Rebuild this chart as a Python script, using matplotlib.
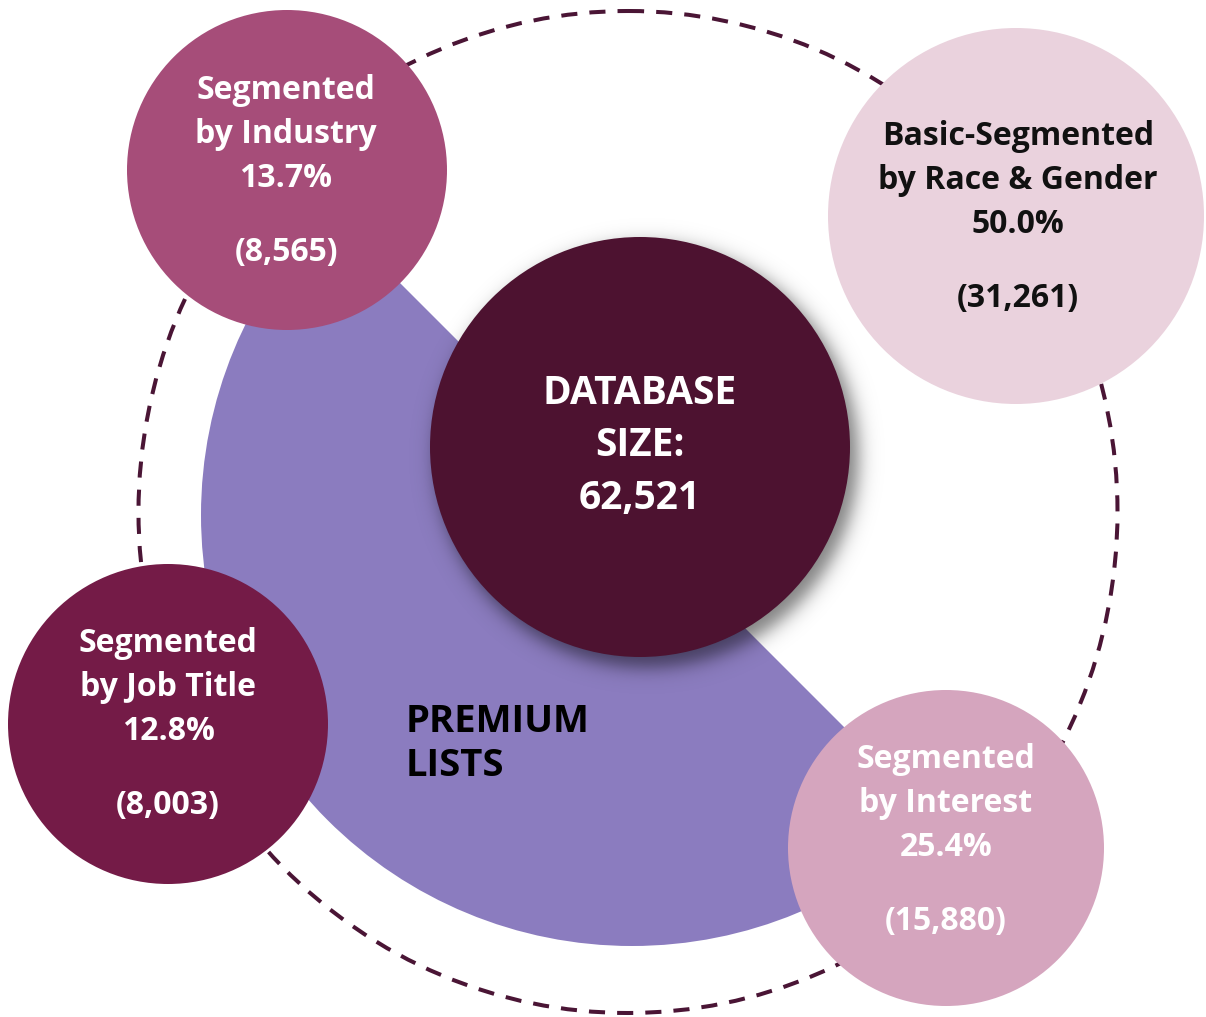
import matplotlib
matplotlib.use("Agg")
import matplotlib.pyplot as plt
import numpy as np
from matplotlib.patches import Circle, Wedge, Ellipse

plt.rcParams['font.family'] = ['Open Sans', 'DejaVu Sans']

# ---- data ----
categories = ["Segmented\nby Industry", "Basic-Segmented\nby Race & Gender",
              "Segmented\nby Job Title", "Segmented\nby Interest"]
percentages = [13.7, 50.0, 12.8, 25.4]
counts = [8565, 31261, 8003, 15880]
database_total = 62521
center_label = ["DATABASE", "SIZE:"]
premium_label = ["PREMIUM", "LISTS"]

# ---- layout / style (pixel coordinates) ----
W, H = 1206, 1017
bubble_xy = [(287, 170), (1016, 216), (168, 724), (946, 848)]
bubble_r = [160, 188, 160, 158]
bubble_text_x = [286, 1018, 168, 946]
bubble_first_baseline = [99, 145, 652, 768]
bubble_color = ["#A64D79", "#EAD2DD", "#741B47", "#D5A5BE"]
text_color = ["white", "#111111", "white", "white"]
LINE = 44
COUNT_GAP = 74
FS_SMALL = 23
FS_BIG = 28

fig = plt.figure(figsize=(W / 100, H / 100), dpi=100)
ax = fig.add_axes([0, 0, 1, 1])
ax.set_xlim(0, W)
ax.set_ylim(H, 0)
ax.set_aspect('equal')
ax.axis('off')

# dashed outer ring
ax.add_patch(Ellipse((628, 512), 979, 1002, fill=False, edgecolor="#4A1535",
                     lw=2.9, linestyle=(0, (4.0, 3.0)), zorder=1))

# premium half-disk
ax.add_patch(Wedge((632, 515), 431, 45, 225, facecolor="#8B7CBF",
                   edgecolor="none", zorder=2))

# center circle with soft shadow
ccx, ccy, cr = 640, 447, 210
pad = 60
xs = np.arange(ccx - cr - pad, ccx + cr + pad, 1.0)
ys = np.arange(ccy - cr - pad, ccy + cr + pad, 1.0)
X, Y = np.meshgrid(xs, ys)
d = np.hypot(X - (ccx + 7), Y - (ccy + 9))
alpha = 0.5 / (1 + np.exp((d - (cr + 2)) / 5.5))
rgba = np.zeros(X.shape + (4,))
rgba[..., 3] = alpha
ax.imshow(rgba, extent=(xs[0], xs[-1], ys[-1], ys[0]), origin="upper",
          interpolation="bilinear", zorder=3)
ax.set_xlim(0, W)
ax.set_ylim(H, 0)
ax.add_patch(Circle((ccx, ccy), cr, facecolor="#4D1230", edgecolor="none", zorder=4))
for i, line in enumerate(center_label + [f"{database_total:,}"]):
    ax.text(ccx, 404 + i * 52.5, line, ha="center", va="baseline", color="white",
            fontsize=FS_BIG, fontweight="bold", zorder=5)

for i, line in enumerate(premium_label):
    ax.text(406, 732 + i * 44.5, line, ha="left", va="baseline", color="black",
            fontsize=27.5, fontweight="bold", zorder=5)

# bubbles
for cat, pct, cnt, (x, y), r, tx, b0, fc, tc in zip(
        categories, percentages, counts, bubble_xy, bubble_r, bubble_text_x,
        bubble_first_baseline, bubble_color, text_color):
    ax.add_patch(Circle((x, y), r, facecolor=fc, edgecolor="none", zorder=6))
    lines = cat.split("\n") + [f"{pct:.1f}%"]
    for i, line in enumerate(lines):
        ax.text(tx, b0 + i * LINE, line, ha="center", va="baseline", color=tc,
                fontsize=FS_SMALL, fontweight="bold", zorder=7)
    ax.text(tx, b0 + 2 * LINE + COUNT_GAP, f"({cnt:,})", ha="center", va="baseline",
            color=tc, fontsize=FS_SMALL, fontweight="bold", zorder=7)

fig.savefig("out.png", dpi=100)
